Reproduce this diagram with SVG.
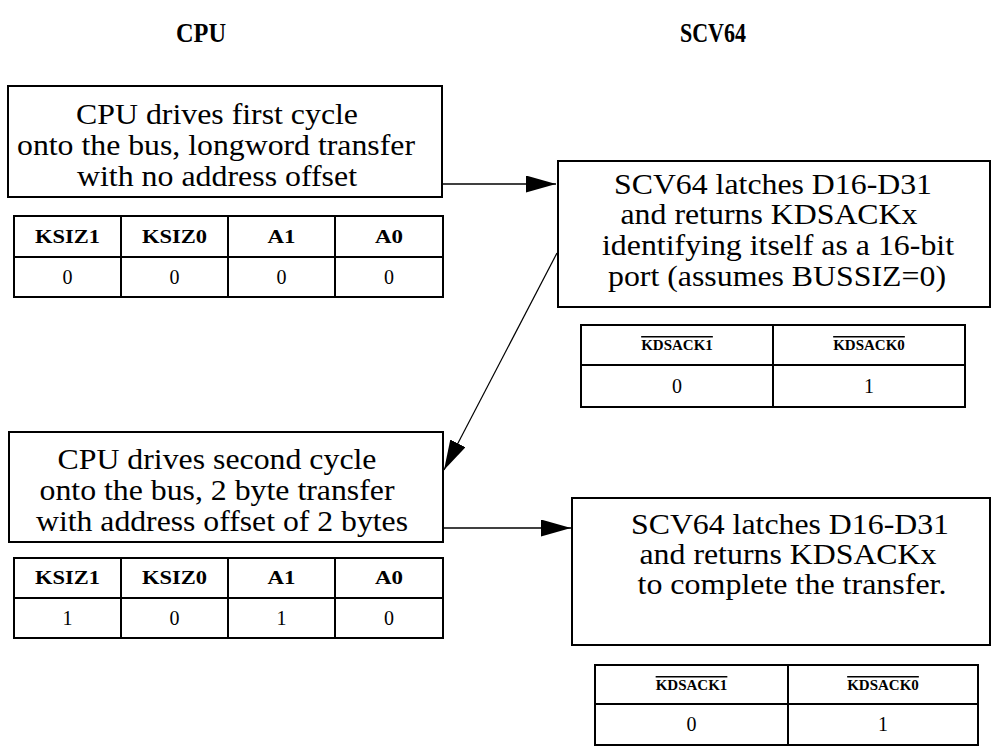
<svg xmlns="http://www.w3.org/2000/svg" width="992" height="752" viewBox="0 0 992 752">
<style>
.box{fill:none;stroke:#000;stroke-width:2}
.tl{stroke:#000;stroke-width:2;fill:none}
.c{stroke:#000;stroke-width:1.6;fill:none}
</style>
<defs>
<marker id="ah" markerUnits="userSpaceOnUse" markerWidth="30" markerHeight="17" refX="30" refY="8.5" orient="auto">
<path d="M0,0 L30,8.5 L0,17 Z" fill="#000"/>
</marker>
</defs>
<rect x="0" y="0" width="992" height="752" fill="#fff"/>
<g font-family="'Liberation Serif', 'Times New Roman', serif" fill="#000" text-anchor="middle">
<g id="title-cpu" font-size="28" font-weight="bold"><text x="201" y="42" textLength="50" lengthAdjust="spacingAndGlyphs">CPU</text></g>
<g id="title-scv64" font-size="28" font-weight="bold"><text x="713" y="42" textLength="66" lengthAdjust="spacingAndGlyphs">SCV64</text></g>

<g id="cpu-cycle1">
<rect class="box" x="8" y="86" width="434" height="111"/>
<g font-size="29">
<text x="217" y="124" textLength="282" lengthAdjust="spacingAndGlyphs">CPU drives first cycle</text>
<text x="216" y="155" textLength="398" lengthAdjust="spacingAndGlyphs">onto the bus, longword transfer</text>
<text x="217" y="186" textLength="280" lengthAdjust="spacingAndGlyphs">with no address offset</text>
</g>
</g>
<g id="cpu-table1">
<rect class="tl" x="14" y="216" width="429" height="81"/>
<path class="tl" d="M14,257 H443 M121,216 V297 M228,216 V297 M335,216 V297"/>
<g font-size="19" font-weight="bold">
<text x="67.5" y="243" textLength="65" lengthAdjust="spacingAndGlyphs">KSIZ1</text>
<text x="174.5" y="243" textLength="65" lengthAdjust="spacingAndGlyphs">KSIZ0</text>
<text x="281.5" y="243" textLength="28" lengthAdjust="spacingAndGlyphs">A1</text>
<text x="389" y="243" textLength="28" lengthAdjust="spacingAndGlyphs">A0</text>
</g>
<g font-size="20">
<text x="67.5" y="284">0</text>
<text x="174.5" y="284">0</text>
<text x="281.5" y="284">0</text>
<text x="389" y="284">0</text>
</g>
</g>

<g id="scv64-response1">
<rect class="box" x="558" y="161" width="432" height="146"/>
<g font-size="29">
<text x="773" y="194" textLength="318" lengthAdjust="spacingAndGlyphs">SCV64 latches D16-D31</text>
<text x="769" y="224" textLength="297" lengthAdjust="spacingAndGlyphs">and returns KDSACKx</text>
<text x="778" y="255" textLength="352" lengthAdjust="spacingAndGlyphs">identifying itself as a 16-bit</text>
<text x="777" y="286" textLength="338" lengthAdjust="spacingAndGlyphs">port (assumes BUSSIZ=0)</text>
</g>
</g>
<g id="scv64-table1">
<rect class="tl" x="581" y="325" width="384" height="82"/>
<path class="tl" d="M581,365 H965 M773,325 V407"/>
<g font-size="15" font-weight="bold" text-decoration="overline">
<text x="677" y="350">KDSACK1</text>
<text x="869" y="350">KDSACK0</text>
</g>
<g font-size="20">
<text x="677" y="393">0</text>
<text x="869" y="393">1</text>
</g>
</g>

<g id="cpu-cycle2">
<rect class="box" x="9" y="432" width="434" height="110"/>
<g font-size="29">
<text x="217" y="469" textLength="319" lengthAdjust="spacingAndGlyphs">CPU drives second cycle</text>
<text x="217" y="500" textLength="355" lengthAdjust="spacingAndGlyphs">onto the bus, 2 byte transfer</text>
<text x="222" y="531" textLength="372" lengthAdjust="spacingAndGlyphs">with address offset of 2 bytes</text>
</g>
</g>
<g id="cpu-table2">
<rect class="tl" x="14" y="558" width="429" height="80"/>
<path class="tl" d="M14,598 H443 M121,558 V638 M228,558 V638 M335,558 V638"/>
<g font-size="19" font-weight="bold">
<text x="67.5" y="584" textLength="65" lengthAdjust="spacingAndGlyphs">KSIZ1</text>
<text x="174.5" y="584" textLength="65" lengthAdjust="spacingAndGlyphs">KSIZ0</text>
<text x="281.5" y="584" textLength="28" lengthAdjust="spacingAndGlyphs">A1</text>
<text x="389" y="584" textLength="28" lengthAdjust="spacingAndGlyphs">A0</text>
</g>
<g font-size="20">
<text x="67.5" y="625">1</text>
<text x="174.5" y="625">0</text>
<text x="281.5" y="625">1</text>
<text x="389" y="625">0</text>
</g>
</g>

<g id="scv64-response2">
<rect class="box" x="572" y="498" width="418" height="147"/>
<g font-size="29">
<text x="790" y="534" textLength="318" lengthAdjust="spacingAndGlyphs">SCV64 latches D16-D31</text>
<text x="788" y="564" textLength="297" lengthAdjust="spacingAndGlyphs">and returns KDSACKx</text>
<text x="792" y="594" textLength="309" lengthAdjust="spacingAndGlyphs">to complete the transfer.</text>
</g>
</g>
<g id="scv64-table2">
<rect class="tl" x="595" y="665" width="383" height="80"/>
<path class="tl" d="M595,704 H978 M788,665 V745"/>
<g font-size="15" font-weight="bold" text-decoration="overline">
<text x="691.5" y="690">KDSACK1</text>
<text x="883" y="690">KDSACK0</text>
</g>
<g font-size="20">
<text x="691.5" y="731">0</text>
<text x="883" y="731">1</text>
</g>
</g>
</g>

<g id="connectors">
<line class="c" x1="442" y1="184" x2="556" y2="184" marker-end="url(#ah)"/>
<line class="c" x1="557" y1="253" x2="444" y2="470" marker-end="url(#ah)" stroke-width="1.2" style="stroke-width:1.2"/>
<line class="c" x1="443" y1="528" x2="571" y2="528" marker-end="url(#ah)"/>
</g>
</svg>
